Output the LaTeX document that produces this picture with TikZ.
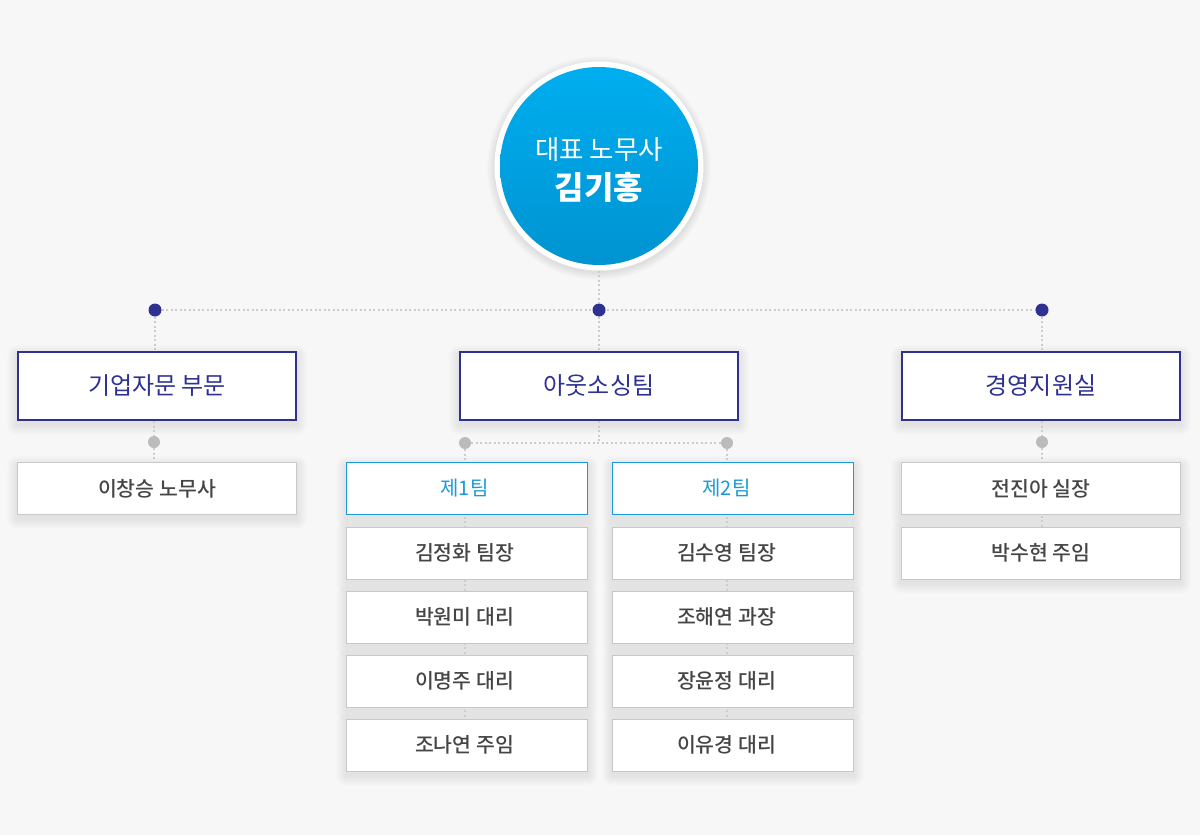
\documentclass[tikz,border=0pt]{standalone}
\usepackage{fontspec}
\setmainfont{Noto Sans CJK KR}
\newfontfamily\medfont{Noto Sans CJK KR Medium}
\definecolor{bg}{HTML}{F7F7F7}
\definecolor{navy}{HTML}{2E3192}
\definecolor{teamblue}{HTML}{1A9BD7}
\definecolor{txtgray}{HTML}{454545}
\definecolor{linegray}{HTML}{CCCCCC}
\definecolor{dotgray}{HTML}{BBBBBB}
\definecolor{boxgray}{HTML}{C8C8C8}
\definecolor{ctop}{HTML}{00AEEF}
\definecolor{cbot}{HTML}{0093D1}
\pgfdeclarelayer{bgfill}
\pgfdeclarelayer{shade}
\pgfdeclarelayer{lines}
\pgfsetlayers{bgfill,shade,lines,main}
\newcommand{\softshadow}[1]{%
  \foreach \k in {1,...,10}{%
    \fill[black, opacity=0.0085, rounded corners=\k pt]
      ([xshift=-\k pt, yshift={(\k-4)*1pt}]#1.north west) rectangle
      ([xshift=\k pt, yshift={(-\k-4)*1pt}]#1.south east);
  }}
\tikzset{
  deptbox/.style={draw=navy, line width=2pt, fill=white, minimum width=278pt, minimum height=68pt, inner sep=0pt, text=navy, font=\fontsize{24}{28}\selectfont},
  teambox/.style={draw=teamblue, line width=1pt, fill=white, minimum width=241pt, minimum height=52pt, inner sep=0pt, text=teamblue, font=\fontsize{20}{24}\selectfont},
  memberbox/.style={draw=boxgray, line width=1pt, fill=white, minimum width=241pt, minimum height=52pt, inner sep=0pt, text=txtgray, font=\medfont\fontsize{20.5}{24}\selectfont},
  widebox/.style={memberbox, minimum width=279pt},
  colA/.style={execute at begin node={\hspace*{-5pt}}},
  colB/.style={execute at begin node={\hspace*{-13pt}}},
  navydot/.style={circle, fill=navy, minimum size=13pt, inner sep=0pt},
  graydot/.style={circle, fill=dotgray, minimum size=12pt, inner sep=0pt},
  conn/.style={draw=linegray, line width=1.3pt, dash pattern=on 2pt off 2.5pt},
}
\begin{document}
\begin{tikzpicture}[x=1pt, y=-1pt]
\begin{pgfonlayer}{bgfill}
\fill[bg] (0,0) rectangle (1200,835);
\end{pgfonlayer}
\useasboundingbox (0,0) rectangle (1200,835);

% CEO circle
\node[circle, fill=white, minimum size=209pt, inner sep=0pt] (ring) at (599,166) {};
\node[circle, minimum size=198pt, inner sep=0pt, top color=ctop, bottom color=cbot] (ceo) at (599,166) {};
\node[text=white, font=\fontsize{26.5}{30}\selectfont] (ceotitle) at (599,150) {대표 노무사};
\node[text=white, font=\fontsize{32}{36}\selectfont\bfseries] (ceoname) at (599,187) {김기홍};

% junction dots
\node[navydot] (jL) at (155,310) {};
\node[navydot] (jM) at (599,310) {};
\node[navydot] (jR) at (1042,310) {};

% departments
\node[deptbox] (d1) at (157,386) {기업자문 부문};
\node[deptbox] (d2) at (599,386) {아웃소싱팀};
\node[deptbox] (d3) at (1041,386) {경영지원실};

% second level dots
\node[graydot] (gL) at (154,442) {};
\node[graydot] (g1) at (465,443) {};
\node[graydot] (g2) at (727,443) {};
\node[graydot] (gR) at (1042,442) {};
\coordinate (gM) at (599,443);

% left column
\node[widebox] (s1) at (157,488.5) {이창승 노무사};

% teams
\node[teambox, colA] (t1) at (467,488.5) {제1팀};
\node[teambox, colB] (t2) at (733,488.5) {제2팀};
\node[memberbox, colA] (a1) at (467,553) {김정화 팀장};
\node[memberbox, colA] (a2) at (467,617) {박원미 대리};
\node[memberbox, colA] (a3) at (467,681) {이명주 대리};
\node[memberbox, colA] (a4) at (467,745) {조나연 주임};
\node[memberbox, colB] (b1) at (733,553) {김수영 팀장};
\node[memberbox, colB] (b2) at (733,617) {조해연 과장};
\node[memberbox, colB] (b3) at (733,681) {장윤정 대리};
\node[memberbox, colB] (b4) at (733,745) {이유경 대리};

% right column
\node[widebox] (r1) at (1041,488.5) {전진아 실장};
\node[widebox] (r2) at (1041,553) {박수현 주임};

% shadows
\begin{pgfonlayer}{shade}
\foreach \k in {1,...,8}{%
  \fill[black, opacity=0.011] ([yshift=-2pt]ring.center) circle ({(104+\k)*1pt});
}
\foreach \n in {d1,d2,d3,s1,t1,t2,a1,a2,a3,a4,b1,b2,b3,b4,r1,r2}{\softshadow{\n}}
\end{pgfonlayer}

% connectors
\begin{pgfonlayer}{lines}
\draw[conn] (ring.south) -- (jM) -- (d2.north);
\draw[conn] (jL) -- (jR);
\draw[conn] (jL) -- (jL |- d1.north);
\draw[conn] (jR) -- (jR |- d3.north);
\draw[conn] (gL |- d1.south) -- (gL) -- (gL |- s1.north);
\draw[conn] (d2.south) -- (gM);
\draw[conn] (g1) -- (g2);
\draw[conn] (g1) -- (g1 |- a4.north);
\draw[conn] (g2) -- (g2 |- b4.north);
\draw[conn] (gR |- d3.south) -- (gR) -- (gR |- r2.north);
\end{pgfonlayer}
\end{tikzpicture}
\end{document}
